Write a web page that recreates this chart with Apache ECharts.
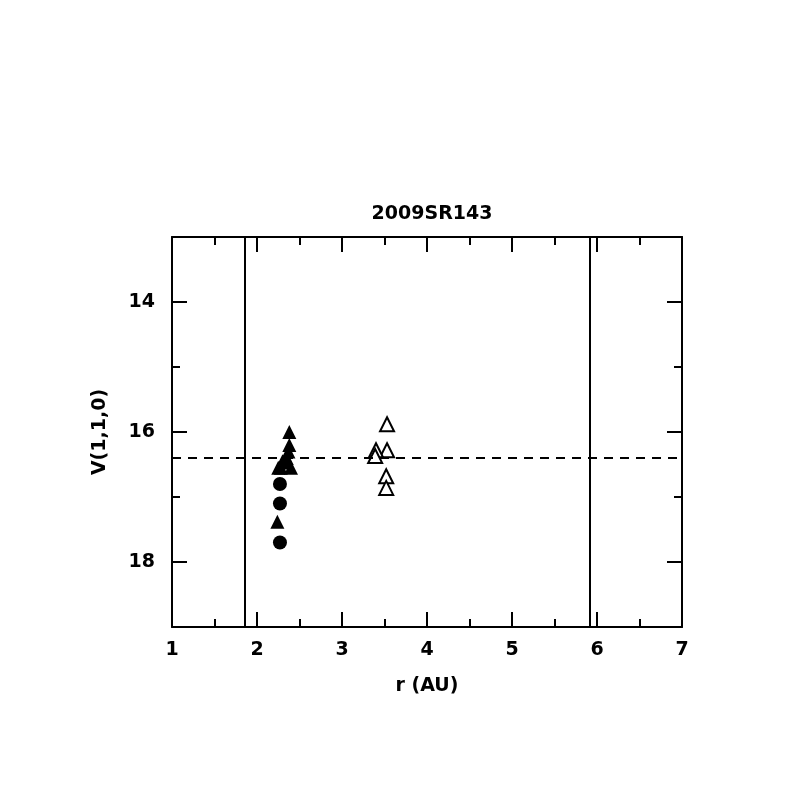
<!DOCTYPE html>
<html><head><meta charset="utf-8">
<script src="https://cdn.jsdelivr.net/npm/echarts@6/dist/echarts.min.js"></script>
<style>html,body{margin:0;padding:0;background:#fff}#c{width:797px;height:797px}</style>
</head><body><div id="c"></div>
<script>
const titleText = "2009SR143";
const xName = "r (AU)";
const yName = "V(1,1,0)";
const yMajorTicks = [14, 16, 18];
const yMinorTicks = [15, 17];
const filledCircles = [[2.27,16.8],[2.27,17.1],[2.27,17.7]];
const filledTriangles = [[2.38,16.0],[2.38,16.2],[2.37,16.3],[2.35,16.4],[2.32,16.47],[2.28,16.55],[2.25,16.55],[2.40,16.55],[2.30,16.45],[2.24,17.38]];
const openTriangles = [[3.53,15.88],[3.53,16.28],[3.40,16.28],[3.39,16.37],[3.52,16.68],[3.52,16.86]];
const verticalLines = [1.85, 5.91];
const dashedLevel = [16.4];

const font = "DejaVu Sans";
const fw = 'bold';
const chart = echarts.init(document.getElementById('c'), null, {renderer:'canvas'});
function xAx(pos, show){
  return {type:'value', position:pos, min:1, max:7, interval:1,
    axisLine:{show:true, onZero:false, lineStyle:{color:'#000', width:2}},
    axisTick:{show:true, inside:true, length:15, lineStyle:{color:'#000', width:2}},
    minorTick:{show:true, splitNumber:2, length:8, lineStyle:{color:'#000', width:2}},
    axisLabel:{show:show, margin:14, color:'#000', fontSize:19, fontWeight:fw, fontFamily:font},
    splitLine:{show:false},
    name: show? xName : '', nameLocation:'middle', nameGap:50,
    nameTextStyle:{color:'#000', fontSize:19, fontWeight:fw, fontFamily:font}};
}
function yAx(pos, show, ticks, len, line){
  return {type:'value', position:pos, min:13, max:19, inverse:true,
    axisLine:{show:line, onZero:false, lineStyle:{color:'#000', width:2}},
    axisTick:{show:true, inside:true, length:len, customValues:ticks, lineStyle:{color:'#000', width:2}},
    axisLabel:{show:show, margin:17, color:'#000', fontSize:19, fontWeight:fw, fontFamily:font,
      customValues:ticks},
    splitLine:{show:false},
    name: show? yName : '', nameLocation:'middle', nameGap:62,
    nameTextStyle:{color:'#000', fontSize:19, fontWeight:fw, fontFamily:font}};
}
const option = {
  backgroundColor:'#fff',
  animation:false,
  title:{text:titleText, left:427, top:200, textAlign:'center',
    textStyle:{color:'#000', fontSize:19, fontWeight:fw, fontFamily:font}},
  grid:{left:172, top:237, width:510, height:390},
  xAxis:[xAx('bottom', true), xAx('top', false)],
  yAxis:[yAx('left', true, yMajorTicks, 15, true), yAx('right', false, yMajorTicks, 15, true),
         yAx('left', false, yMinorTicks, 8, false), yAx('right', false, yMinorTicks, 8, false)],
  series:[
    {type:'scatter', data:filledCircles, symbol:'circle', symbolSize:14,
      itemStyle:{color:'#000', opacity:1}},
    {type:'scatter', data:filledTriangles, symbol:'triangle', symbolSize:14,
      itemStyle:{color:'#000', opacity:1}},
    {type:'scatter', data:openTriangles, symbol:'triangle', symbolSize:14,
      itemStyle:{color:'#fff', borderColor:'#000', borderWidth:2, opacity:1},
      markLine:{silent:true, symbol:['none','none'], label:{show:false},
        lineStyle:{color:'#000', width:2, type:'solid'},
        data: verticalLines.map(v=>({xAxis:v}))}},
    {type:'scatter', data:[], 
      markLine:{silent:true, symbol:['none','none'], label:{show:false},
        lineStyle:{color:'#000', width:2, type:[9,7]},
        data: dashedLevel.map(v=>({yAxis:v}))}}
  ]
};
chart.setOption(option);
</script></body></html>
